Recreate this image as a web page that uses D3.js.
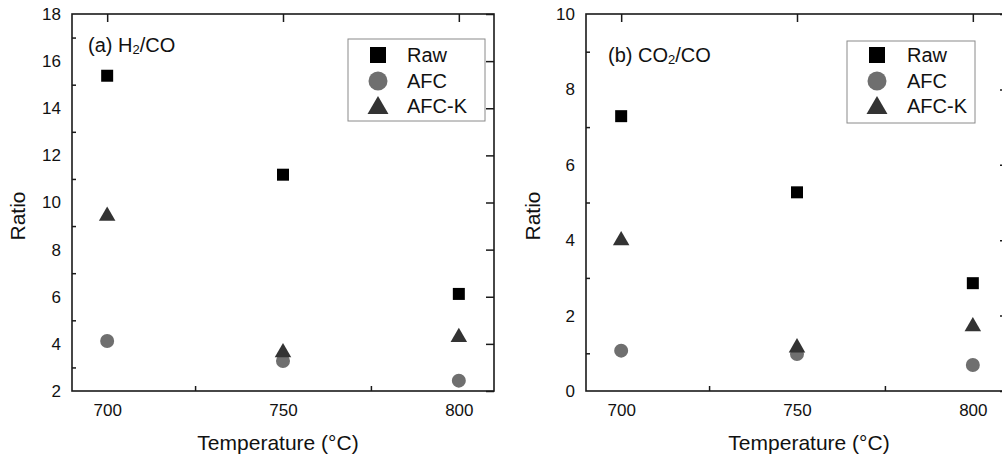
<!DOCTYPE html>
<html lang="en">
<head>
    <meta charset="utf-8">
    <title>H2/CO and CO2/CO ratios</title>
    <script src="https://d3js.org/d3.v7.min.js"></script>
    <style>
        html, body {
            margin: 0;
            padding: 0;
            background: #fff;
        }
        text {
            font-family: "Liberation Sans", Arial, sans-serif;
            fill: #111;
        }
        .axis path.domain { display: none; }
        .axis line { stroke: #1a1a1a; stroke-width: 1.5px; }
        .axis text { font-size: 17px; }
    </style>
</head>
<body>
<script>

    // data
    var temps = [700, 750, 800];
    var seriesNames = ["Raw", "AFC", "AFC-K"];

    var h2coRaw = [15.38, 11.18, 6.12];
    var h2coAFC = [4.12, 3.27, 2.44];
    var h2coAFCK = [9.43, 3.63, 4.28];

    var co2coRaw = [7.29, 5.27, 2.86];
    var co2coAFC = [1.07, 0.98, 0.69];
    var co2coAFCK = [3.99, 1.15, 1.71];

    var h2coTicks = [2, 4, 6, 8, 10, 12, 14, 16, 18];
    var co2coTicks = [0, 2, 4, 6, 8, 10];
    var tempTicks = [700, 750, 800];
    var tempMinor = [725, 775];

    var w = 1002, h = 458;

    var svg = d3.select("body").append("svg")
        .attr("width", w)
        .attr("height", h);

    var styles = {
        "Raw":   {type: d3.symbolSquare,   fill: "#000000", size: 144, legSize: 256},
        "AFC":   {type: d3.symbolCircle,   fill: "#6f6f6f", size: 154, legSize: 283},
        "AFC-K": {type: d3.symbolTriangle, fill: "#333333", size: 118, legSize: 190}
    };

    var panels = [
        {
            x0: 72, x1: 494, y0: 14, y1: 391,
            yDomain: [2, 18], yTicks: h2coTicks, yMinor: [3, 5, 7, 9, 11, 13, 15, 17],
            series: [h2coRaw, h2coAFC, h2coAFCK],
            label: ["(a) H", "2", "/CO"], labelX: 88, labelY: 52,
            legend: {x: 348, y: 39, w: 137, h: 82, mx: 378, tx: 407},
            xTitleX: 278, yTitleX: 25
        },
        {
            x0: 586, x1: 1008, y0: 14, y1: 391,
            yDomain: [0, 10], yTicks: co2coTicks, yMinor: [1, 3, 5, 7, 9],
            series: [co2coRaw, co2coAFC, co2coAFCK],
            label: ["(b) CO", "2", "/CO"], labelX: 608, labelY: 62,
            legend: {x: 847, y: 41, w: 128, h: 82, mx: 877, tx: 907},
            xTitleX: 809, yTitleX: 540
        }
    ];

    panels.forEach(function(p) {
        var xScale = d3.scaleLinear().domain([690, 810]).range([p.x0, p.x1]);
        var yScale = d3.scaleLinear().domain(p.yDomain).range([p.y1, p.y0]);

        var g = svg.append("g");

        // labels on the left, ticks only at the odd values
        g.append("g").attr("class", "axis")
            .attr("transform", "translate(" + p.x0 + ",0)")
            .call(d3.axisLeft(yScale).tickValues(p.yTicks).tickSize(0).tickPadding(11));
        g.append("g").attr("class", "axis")
            .attr("transform", "translate(" + p.x0 + ",0)")
            .call(d3.axisLeft(yScale).tickValues(p.yMinor).tickSizeInner(-4).tickSizeOuter(0).tickFormat(""));
        // right side major ticks
        g.append("g").attr("class", "axis")
            .attr("transform", "translate(" + p.x1 + ",0)")
            .call(d3.axisRight(yScale).tickValues(p.yTicks).tickSizeInner(-8).tickSizeOuter(0).tickFormat(""));

        // bottom labels + minor ticks, top major ticks
        g.append("g").attr("class", "axis")
            .attr("transform", "translate(0," + p.y1 + ")")
            .call(d3.axisBottom(xScale).tickValues(tempTicks).tickSize(0).tickPadding(13));
        g.append("g").attr("class", "axis")
            .attr("transform", "translate(0," + p.y1 + ")")
            .call(d3.axisBottom(xScale).tickValues(tempMinor).tickSizeInner(-5).tickSizeOuter(0).tickFormat(""));
        g.append("g").attr("class", "axis")
            .attr("transform", "translate(0," + p.y0 + ")")
            .call(d3.axisTop(xScale).tickValues(tempTicks).tickSizeInner(-8).tickSizeOuter(0).tickFormat(""));

        // frame
        g.append("rect")
            .attr("x", p.x0).attr("y", p.y0)
            .attr("width", p.x1 - p.x0).attr("height", p.y1 - p.y0)
            .attr("fill", "none")
            .attr("stroke", "#1a1a1a")
            .attr("stroke-width", 1.6);

        // points
        seriesNames.forEach(function(name, i) {
            var st = styles[name];
            g.selectAll(null)
                .data(p.series[i])
                .enter().append("path")
                .attr("d", d3.symbol().type(st.type).size(st.size))
                .attr("fill", st.fill)
                .attr("transform", function(d, j) {
                    return "translate(" + xScale(temps[j]) + "," + yScale(d) + ")";
                });
        });

        // panel label with subscript
        var lab = g.append("text")
            .attr("x", p.labelX).attr("y", p.labelY)
            .style("font-size", "20px");
        lab.append("tspan").text(p.label[0]);
        lab.append("tspan").text(p.label[1]).style("font-size", "13px").attr("dy", 2);
        lab.append("tspan").text(p.label[2]).attr("dy", -2);

        // legend
        var L = p.legend;
        g.append("rect")
            .attr("x", L.x).attr("y", L.y)
            .attr("width", L.w).attr("height", L.h)
            .attr("fill", "#fff")
            .attr("stroke", "#8a8a8a")
            .attr("stroke-width", 1);
        var rowY = [55, 81, 106];
        seriesNames.forEach(function(name, i) {
            var st = styles[name];
            var dy = name === "AFC-K" ? 2 : 0;
            g.append("path")
                .attr("d", d3.symbol().type(st.type).size(st.legSize))
                .attr("fill", st.fill)
                .attr("transform", "translate(" + L.mx + "," + (rowY[i] + dy) + ")");
            g.append("text")
                .attr("x", L.tx).attr("y", rowY[i])
                .attr("dy", "0.36em")
                .style("font-size", "20px")
                .text(name);
        });

        // axis titles
        g.append("text")
            .attr("x", p.xTitleX).attr("y", 450)
            .attr("text-anchor", "middle")
            .style("font-size", "21px")
            .text("Temperature (°C)");
        g.append("text")
            .attr("transform", "translate(" + p.yTitleX + ",216) rotate(-90)")
            .attr("text-anchor", "middle")
            .style("font-size", "21px")
            .text("Ratio");
    });

</script>
</body>
</html>
